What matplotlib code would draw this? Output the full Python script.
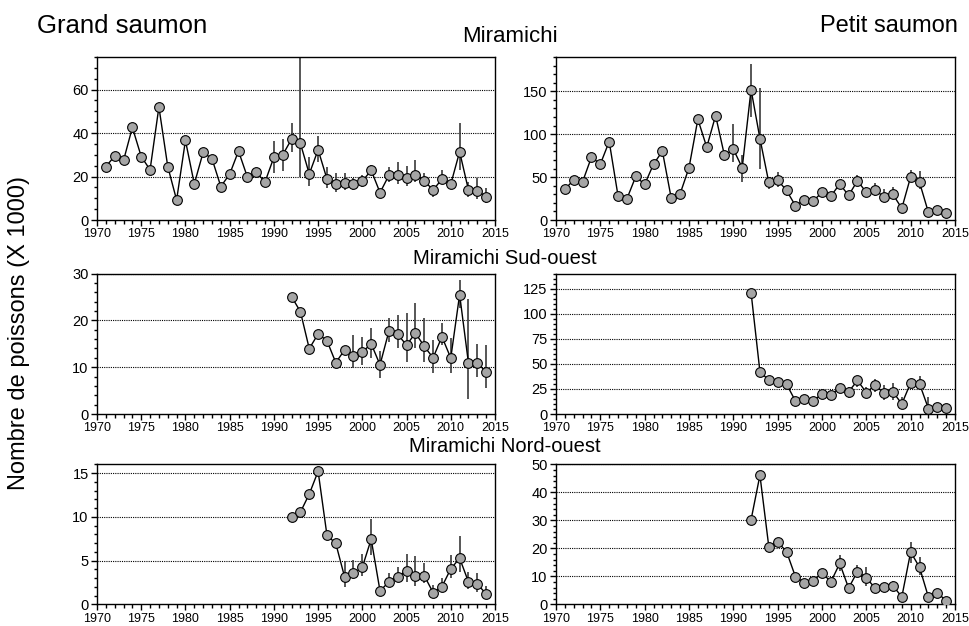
import numpy as np
import matplotlib
matplotlib.use("Agg")
import matplotlib.pyplot as plt
from matplotlib.ticker import MultipleLocator

plt.rcParams['font.family'] = ['Liberation Sans', 'DejaVu Sans']

nan = np.nan
years_long = list(range(1971, 2015))
years_short = list(range(1992, 2015))
err_years_long = list(range(1990, 2015))

# Grand saumon - Miramichi
gs_mir = [24.6, 29.4, 27.4, 42.6, 29.2, 23.1, 52.0, 24.6, 9.2, 36.6, 16.6, 31.1, 28.2, 15.4,
          21.1, 31.7, 19.8, 22.0, 17.5, 28.9, 30.0, 37.2, 35.2, 21.2, 32.3, 18.9, 16.6, 17.1,
          16.6, 17.8, 22.9, 12.6, 20.5, 20.5, 19.1, 20.9, 18.0, 13.8, 18.8, 16.5, 31.4, 13.8,
          13.4, 10.8]
gs_mir_lo = [21.5, 22.6, 31.5, 20.0, 15.8, 26.6, 14.6, 13.0, 14.0, 14.0, 15.0, 21.2, 11.0,
             17.7, 16.6, 15.8, 17.7, 15.4, 10.8, 16.6, 14.5, 23.1, 10.8, 9.5, 7.7]
gs_mir_hi = [36.2, 37.4, 44.6, 100.0, 28.9, 38.8, 24.6, 21.5, 21.5, 19.5, 20.5, 25.4, 14.0,
             24.6, 26.9, 24.9, 27.4, 21.5, 16.2, 23.0, 17.5, 44.6, 17.7, 19.2, 14.6]

# Petit saumon - Miramichi
ps_mir = [36.0, 46.5, 44.6, 73.3, 65.1, 91.5, 27.9, 24.8, 50.8, 41.5, 65.1, 80.2, 25.2, 30.6,
          60.9, 117.4, 84.9, 121.7, 75.2, 82.6, 60.9, 152.0, 95.0, 43.8, 46.5, 34.5, 16.7, 23.3,
          22.1, 32.2, 27.9, 41.9, 28.7, 45.7, 32.2, 34.5, 27.1, 29.8, 13.6, 50.4, 43.8, 8.9,
          12.0, 8.1]
ps_mir_lo = [67.8, 44.6, 120.0, 60.0, 36.0, 38.8, 28.0, nan, nan, nan, nan, nan, nan, nan,
             40.0, 27.0, 27.9, 22.0, 24.0, nan, 43.8, 36.0, nan, nan, nan]
ps_mir_hi = [112.4, 75.6, 182.0, 153.9, 50.4, 55.4, 38.0, nan, nan, nan, nan, nan, nan, nan,
             52.0, 38.0, 42.6, 35.7, 38.0, nan, 58.0, 57.0, nan, nan, nan]

# Grand saumon - Miramichi Sud-ouest
gs_so = [25.05, 21.85, 13.95, 17.1, 15.65, 10.96, 13.7, 12.45, 13.2, 15.0, 10.5, 17.65, 17.0,
         14.7, 17.3, 14.45, 12.0, 16.5, 11.95, 25.5, 10.86, 10.86, 9.0]
gs_so_lo = [nan, nan, nan, nan, nan, nan, nan, 9.75, 10.5, 12.0, 7.75, 15.4, 14.0, 11.2, 14.0,
            11.0, 8.7, 14.7, 8.7, 22.6, 3.2, 7.8, 5.6]
gs_so_hi = [nan, nan, nan, nan, nan, nan, nan, 16.9, 16.5, 18.4, 13.5, 20.6, 21.1, 21.6, 23.6,
            20.6, 15.8, 19.5, 16.2, 28.6, 24.6, 14.9, 14.8]

# Petit saumon - Miramichi Sud-ouest
ps_so = [121.0, 42.1, 33.8, 31.4, 29.8, 13.0, 15.1, 12.7, 20.4, 18.7, 26.4, 22.1, 33.4, 21.4,
         28.8, 20.7, 22.1, 10.0, 31.1, 30.1, 5.4, 7.4, 6.0]
ps_so_lo = [nan] * 11 + [16.0, 27.4, 15.7, 22.0, 14.0, 14.0, 5.7, 27.0, 24.0, 0.0, nan, nan]
ps_so_hi = [nan] * 11 + [27.0, 37.5, 27.4, 35.0, 29.1, 30.8, 17.4, 35.0, 37.5, 17.4, nan, nan]

# Grand saumon - Miramichi Nord-ouest
gs_no = [10.0, 10.53, 12.6, 15.2, 7.9, 6.95, 3.1, 3.55, 4.24, 7.44, 1.53, 2.56, 3.17, 3.85,
         3.28, 3.28, 1.34, 2.02, 4.05, 5.27, 2.56, 2.32, 1.18]
gs_no_lo = [nan] * 6 + [2.0, 2.9, 3.2, 5.65, nan, 2.0, 2.5, 2.6, 2.1, 2.4, 1.0, 1.4, 2.98, 3.74,
                        1.75, 1.44, 0.69]
gs_no_hi = [nan] * 6 + [4.9, 5.1, 5.8, 9.7, nan, 3.6, 4.3, 5.8, 5.5, 4.7, 2.2, 3.0, 5.65, 7.8,
                        3.73, 3.55, 2.1]

# Petit saumon - Miramichi Nord-ouest
ps_no = [30.2, 46.1, 20.6, 22.3, 18.8, 9.9, 7.7, 8.3, 11.3, 8.0, 14.6, 5.8, 11.7, 9.5, 5.7, 6.2,
         6.7, 2.6, 18.7, 13.2, 2.6, 4.2, 1.2]
ps_no_lo = [nan] * 10 + [12.0, nan, 9.7, 6.7, nan, nan, 5.0, nan, 14.6, 10.5, nan, nan, nan]
ps_no_hi = [nan] * 10 + [17.6, nan, 14.0, 13.5, nan, nan, 8.5, nan, 22.4, 17.0, nan, nan, nan]

W, H = 969, 626
fig = plt.figure(figsize=(W / 100, H / 100), dpi=100)


def px_axes(x0, y0, x1, y1):
    return fig.add_axes([x0 / W, 1 - y1 / H, (x1 - x0) / W, (y1 - y0) / H])


def panel(ax, yrs, vals, eyrs, lo, hi, ymax, major, minor):
    ax.set_xlim(1970, 2015)
    ax.set_ylim(0, ymax)
    ax.xaxis.set_major_locator(MultipleLocator(5))
    ax.xaxis.set_minor_locator(MultipleLocator(1))
    ax.yaxis.set_major_locator(MultipleLocator(major))
    ax.yaxis.set_minor_locator(MultipleLocator(minor))
    for g in np.arange(major, ymax + 1e-9, major):
        ax.axhline(g, color='black', lw=0.8, ls=(0, (1, 1)), zorder=1)
    lo = np.asarray(lo, float)
    hi = np.asarray(hi, float)
    ey = np.asarray(eyrs, float)
    m = ~np.isnan(lo)
    ax.vlines(ey[m], lo[m], hi[m], color='#3a3a3a', lw=1.2, zorder=2)
    ax.plot(yrs, vals, color='black', lw=1.0, marker='o', ms=7,
            mfc='#a5a5a5', mec='black', mew=0.8, zorder=3, clip_on=True)
    ax.tick_params(axis='x', which='major', direction='out', length=4, width=1,
                   labelsize=9, pad=2)
    ax.tick_params(axis='x', which='minor', direction='out', length=3, width=1)
    ax.tick_params(axis='y', which='major', direction='out', length=4, width=1,
                   labelsize=10.5, pad=2)
    ax.tick_params(axis='y', which='minor', direction='out', length=2.5, width=1)
    for s in ax.spines.values():
        s.set_linewidth(1.0)
    ax.set_facecolor('white')


LX0, LX1 = 97, 495
RX0, RX1 = 556, 955
ROWS = [(57, 220), (273.5, 414), (464.3, 604.3)]

ax = px_axes(LX0, ROWS[0][0], LX1, ROWS[0][1])
panel(ax, years_long, gs_mir, err_years_long, gs_mir_lo, gs_mir_hi, 75, 20, 5)
ax = px_axes(RX0, ROWS[0][0], RX1, ROWS[0][1])
panel(ax, years_long, ps_mir, err_years_long, ps_mir_lo, ps_mir_hi, 190, 50, 10)
ax = px_axes(LX0, ROWS[1][0], LX1, ROWS[1][1])
panel(ax, years_short, gs_so, years_short, gs_so_lo, gs_so_hi, 30, 10, 2)
ax = px_axes(RX0, ROWS[1][0], RX1, ROWS[1][1])
panel(ax, years_short, ps_so, years_short, ps_so_lo, ps_so_hi, 140, 25, 5)
ax = px_axes(LX0, ROWS[2][0], LX1, ROWS[2][1])
panel(ax, years_short, gs_no, years_short, gs_no_lo, gs_no_hi, 16, 5, 1)
ax = px_axes(RX0, ROWS[2][0], RX1, ROWS[2][1])
panel(ax, years_short, ps_no, years_short, ps_no_lo, ps_no_hi, 50, 10, 2)


def ftext(x, y, s, size, **kw):
    kw.setdefault('ha', 'center')
    fig.text(x / W, 1 - y / H, s, fontsize=size, va='center', **kw)


ftext(122, 26, "Grand saumon", 18.5)
ftext(958, 26, "Petit saumon", 17, ha='right')
ftext(510, 36, "Miramichi", 16)
ftext(505, 258, "Miramichi Sud-ouest", 14.5)
ftext(505, 447, "Miramichi Nord-ouest", 14.5)
ftext(19, 333, "Nombre de poissons (X 1000)", 17, rotation=90)

fig.savefig("out.png", dpi=100, facecolor='white')
